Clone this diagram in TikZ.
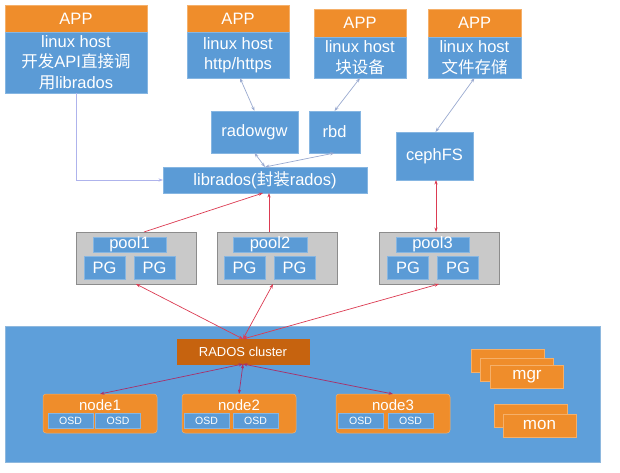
\documentclass[tikz,border=0pt]{standalone}
\usepackage{fontspec}
\setmainfont{Liberation Sans}
\newfontfamily\cjk{Noto Sans CJK SC}
\usetikzlibrary{arrows.meta,calc}
\definecolor{bx}{HTML}{5B9BD6}
\definecolor{bxline}{HTML}{86B6E2}
\definecolor{clu}{HTML}{5E9FDA}
\definecolor{cluline}{HTML}{8EB8DE}
\definecolor{org}{HTML}{EF8D2B}
\definecolor{orgline}{HTML}{F5B06A}
\definecolor{dorg}{HTML}{C6630F}
\definecolor{gry}{HTML}{C9C9C9}
\definecolor{gryline}{HTML}{8C8C8C}
\definecolor{lav}{HTML}{AEB3EC}
\definecolor{gblue}{HTML}{9AAAD0}
\definecolor{rd}{HTML}{DC3B52}
\definecolor{prd}{HTML}{A8306A}
\begin{document}
\begin{tikzpicture}[x=1pt,y=-1pt,
  sz/.style 2 args={minimum width=#1pt, minimum height=#2pt},
  base/.style={inner sep=0pt, outer sep=0pt, text=white, align=center, font=\fontsize{16.5}{20.5}\selectfont},
  bluebox/.style={base, fill=bx, draw=bxline, line width=0.6pt},
  hdrbox/.style={base, fill=org, draw=orgline, line width=0.6pt},
  poolbox/.style={base, fill=gry, draw=gryline, line width=0.7pt},
  plabel/.style={bluebox, text height=11pt, text depth=3pt},
  pgbox/.style={bluebox, sz={41}{23}},
  clusterbox/.style={base, fill=clu, draw=cluline, line width=0.6pt},
  radosbox/.style={base, fill=dorg, draw=dorg, font=\fontsize{13}{15}\selectfont},
  nodebox/.style={base, fill=org, draw=orgline, line width=0.5pt, rounded corners=3pt},
  nodetext/.style={base, font=\fontsize{15}{17}\selectfont},
  osdbox/.style={base, fill=bx, draw=bxline, line width=0.5pt, sz={45}{15}, font=\fontsize{10.5}{12}\selectfont},
  stackbox/.style={base, fill=org, draw=orgline, line width=0.5pt, sz={73}{23}, font=\fontsize{17}{19}\selectfont},
  lavconn/.style={draw=lav, line width=0.7pt, -{Stealth[length=4.5pt,width=3.2pt]}},
  gconn/.style={draw=gblue, line width=0.7pt, {Stealth[length=4.5pt,width=3.2pt]}-{Stealth[length=4.5pt,width=3.2pt]}},
  rconn/.style={draw=rd, line width=0.7pt, -{Stealth[length=4.5pt,width=3.2pt]}},
  rdconn/.style={draw=rd, line width=0.7pt, {Stealth[length=4.5pt,width=3.2pt]}-{Stealth[length=4.5pt,width=3.2pt]}},
  pconn/.style={draw=prd, line width=0.7pt, {Stealth[length=4.5pt,width=3.2pt]}-{Stealth[length=4.5pt,width=3.2pt]}}
]
\useasboundingbox (0,0) rectangle (620,473);
\fill[white] (0,0) rectangle (620,473);

% APP boxes
\node[hdrbox, sz={142}{27}] (app1h) at (76,18.5) {APP};
\node[bluebox, sz={142}{61}] (app1b) at (76,62.5) {linux host\\{\cjk 开发}API{\cjk 直接调}\\{\cjk 用}librados};
\node[hdrbox, sz={102}{27}] (app2h) at (238,18.5) {APP};
\node[bluebox, sz={102}{46}] (app2b) at (238,55) {linux host\\http/https};
\node[hdrbox, sz={92}{28}] (app3h) at (360,23) {APP};
\node[bluebox, sz={92}{41}] (app3b) at (360,57.5) {linux host\\{\cjk 块设备}};
\node[hdrbox, sz={93}{28}] (app4h) at (474.5,23) {APP};
\node[bluebox, sz={93}{41}] (app4b) at (474.5,57.5) {linux host\\{\cjk 文件存储}};

% interface layer
\node[bluebox, sz={87}{42}] (rgw) at (254.5,132) {radowgw};
\node[bluebox, sz={51}{42}] (rbd) at (334.5,132) {rbd};
\node[bluebox, sz={77}{48}] (cephfs) at (434.5,156) {cephFS};
\node[bluebox, sz={204}{26}] (lib) at (265,180) {librados({\cjk 封装}rados)};

% pools
\node[poolbox, sz={120}{52}] (pool1) at (136,258) {};
\node[plabel, sz={73}{15}] (pool1l) at (129.5,244.5) {pool1};
\node[pgbox] (pg1a) at (104.5,267.5) {PG};
\node[pgbox] (pg1b) at (154.5,267.5) {PG};
\node[poolbox, sz={120}{52}] (pool2) at (277,258) {};
\node[plabel, sz={74}{15}] (pool2l) at (270,244.5) {pool2};
\node[pgbox] (pg2a) at (244.5,267.5) {PG};
\node[pgbox] (pg2b) at (294.5,267.5) {PG};
\node[poolbox, sz={120}{52}] (pool3) at (439,258) {};
\node[plabel, sz={73}{15}] (pool3l) at (432.5,244.5) {pool3};
\node[pgbox] (pg3a) at (408,267.5) {PG};
\node[pgbox] (pg3b) at (458,267.5) {PG};

% cluster
\node[clusterbox, sz={595}{136}] (cluster) at (302.5,394) {};
\node[radosbox, sz={132}{25}] (rados) at (243,351.5) {RADOS cluster};

\node[nodebox, sz={114}{39}] (node1) at (100,413.5) {};
\node[nodetext] (node1t) at (100,405) {node1};
\node[osdbox] (osd1a) at (70.5,420.5) {OSD};
\node[osdbox] (osd1b) at (118,420.5) {OSD};
\node[nodebox, sz={114}{39}] (node2) at (239,413.5) {};
\node[nodetext] (node2t) at (239,405) {node2};
\node[osdbox] (osd2a) at (206.5,420.5) {OSD};
\node[osdbox] (osd2b) at (255.5,420.5) {OSD};
\node[nodebox, sz={114}{39}] (node3) at (393,413.5) {};
\node[nodetext] (node3t) at (393,405) {node3};
\node[osdbox] (osd3a) at (360.5,420.5) {OSD};
\node[osdbox] (osd3b) at (410.5,420.5) {OSD};

\node[stackbox] (mgr1) at (507.5,360.5) {};
\node[stackbox] (mgr2) at (517,369.5) {};
\node[stackbox] (mgr3) at (527,376.5) {mgr};
\node[stackbox] (mon1) at (530.5,415.5) {};
\node[stackbox] (mon2) at (539.5,425.5) {mon};

% connectors
\draw[lavconn] (app1b.south) |- (lib.west);
\draw[gconn] ([xshift=2pt]app2b.south) -- (rgw.north);
\draw[gconn] (rgw.south) -- (lib.north);
\draw[gconn] (rbd.south) -- (lib.north);
\draw[gconn] (app3b.south) -- (rbd.north);
\draw[gconn] (app4b.south) -- ([xshift=1pt]cephfs.north);
\draw[rdconn] ([xshift=1.5pt]cephfs.south) -- ([xshift=1.5pt]cephfs.south |- pool3.north);
\draw[rconn] ([xshift=8pt]pool1.north) -- ([xshift=-2pt]lib.south);
\draw[rconn] ([xshift=-8pt]pool2.north) -- ([xshift=-8pt]pool2.north |- lib.south);
\draw[rdconn] (pool1.south) -- (rados.north);
\draw[rdconn] ([xshift=-4pt]pool2.south) -- (rados.north);
\draw[rdconn] (pool3.south) -- (rados.north);
\draw[pconn] (rados.south) -- (node1.north);
\draw[pconn] (rados.south) -- (node2.north);
\draw[pconn] (rados.south) -- (node3.north);
\end{tikzpicture}
\end{document}
